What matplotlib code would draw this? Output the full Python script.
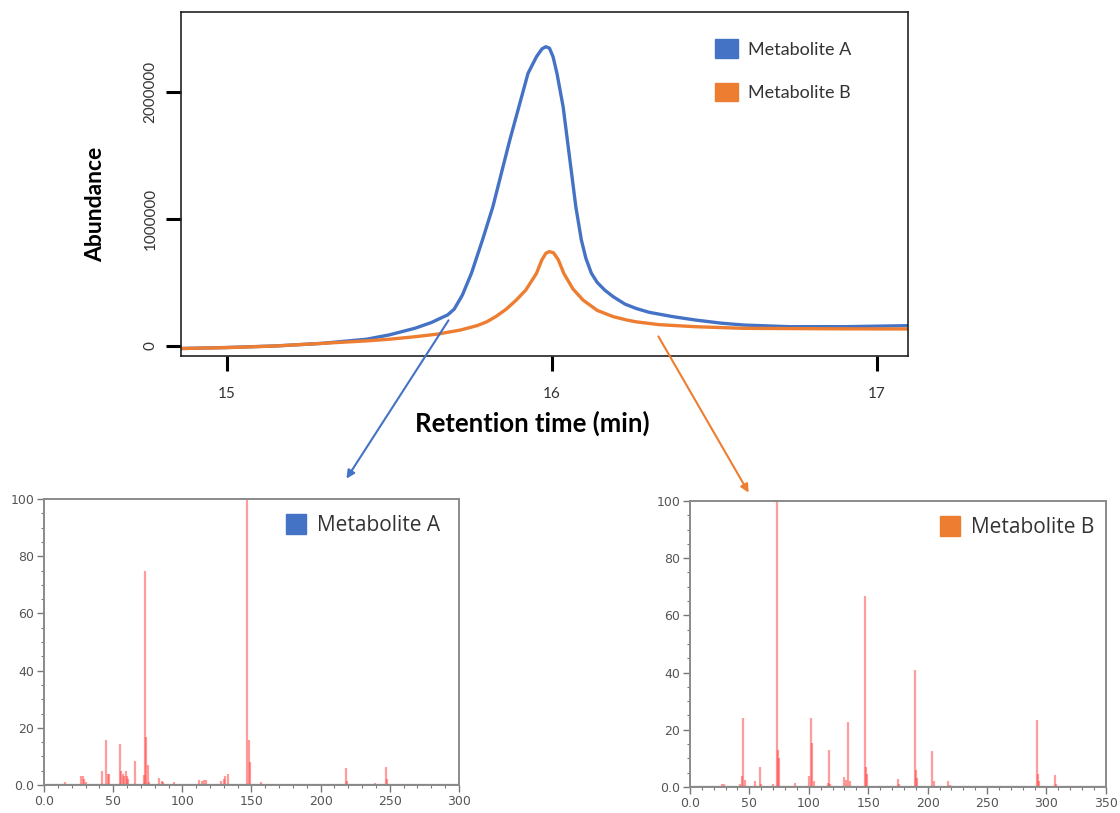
import matplotlib
matplotlib.use("Agg")
import matplotlib.pyplot as plt
from matplotlib.ticker import FixedLocator, MultipleLocator, FuncFormatter
from matplotlib.patches import Patch, FancyArrowPatch

# ---------------- data ----------------
rt_a = [14.86, 15.0, 15.15, 15.29, 15.43, 15.5, 15.58, 15.63, 15.68, 15.70, 15.725,
        15.753, 15.787, 15.819, 15.845, 15.871, 15.899, 15.927, 15.953, 15.97,
        15.982, 15.993, 16.004, 16.016, 16.035, 16.048, 16.061, 16.074, 16.091,
        16.105, 16.122, 16.14, 16.163, 16.189, 16.225, 16.26, 16.3, 16.37, 16.44,
        16.52, 16.59, 16.73, 16.9, 17.095]
ab_a = [-0.02e6, -0.012e6, 0.0, 0.02e6, 0.053e6, 0.087e6, 0.14e6, 0.185e6, 0.245e6,
        0.29e6, 0.40e6, 0.572e6, 0.835e6, 1.097e6, 1.36e6, 1.622e6, 1.884e6,
        2.147e6, 2.278e6, 2.34e6, 2.357e6, 2.345e6, 2.278e6, 2.147e6, 1.884e6,
        1.622e6, 1.36e6, 1.097e6, 0.835e6, 0.69e6, 0.572e6, 0.5e6, 0.44e6,
        0.388e6, 0.33e6, 0.295e6, 0.265e6, 0.232e6, 0.205e6, 0.18e6, 0.165e6,
        0.152e6, 0.152e6, 0.16e6]

rt_b = [14.86, 15.0, 15.15, 15.29, 15.43, 15.5, 15.58, 15.65, 15.72, 15.77, 15.80,
        15.83, 15.86, 15.891, 15.92, 15.953, 15.97, 15.982, 15.992, 16.005, 16.02,
        16.037, 16.065, 16.096, 16.14, 16.189, 16.23, 16.26, 16.33, 16.44, 16.59,
        16.73, 16.9, 17.095]
ab_b = [-0.02e6, -0.013e6, 0.0, 0.02e6, 0.04e6, 0.053e6, 0.073e6, 0.094e6, 0.126e6,
        0.16e6, 0.19e6, 0.235e6, 0.29e6, 0.362e6, 0.44e6, 0.572e6, 0.68e6, 0.73e6,
        0.743e6, 0.735e6, 0.68e6, 0.572e6, 0.45e6, 0.362e6, 0.28e6, 0.231e6,
        0.205e6, 0.19e6, 0.168e6, 0.152e6, 0.139e6, 0.137e6, 0.135e6, 0.134e6]

mz_a = [15, 27, 28, 29, 30, 42, 45, 46, 47, 51, 55, 56, 57, 58, 59, 60, 61, 66,
        72, 73, 74, 75, 76, 83, 85, 86, 94, 103, 112, 114, 116, 117, 128, 130,
        131, 133, 147, 148, 149, 157, 172, 203, 218, 219, 239, 247, 248, 262]
int_a = [1.2, 3.0, 3.3, 2.0, 1.0, 4.8, 15.8, 4.0, 4.0, 0.5, 14.4, 5.0, 4.0, 3.0,
         5.0, 3.0, 2.0, 8.4, 3.5, 74.7, 16.7, 7.0, 1.0, 2.3, 1.5, 1.0, 1.0, 0.5,
         1.7, 1.5, 1.7, 1.8, 1.5, 2.0, 3.0, 3.8, 100.0, 15.8, 8.1, 1.2, 0.5, 0.5,
         6.1, 1.5, 0.7, 6.4, 2.0, 0.5]

mz_b = [27, 29, 42, 44, 45, 46, 55, 59, 60, 70, 73, 74, 75, 88, 100, 102, 103,
        104, 116, 117, 118, 130, 131, 133, 135, 147, 148, 149, 163, 175, 176,
        189, 190, 191, 204, 205, 217, 219, 222, 292, 293, 294, 307, 308, 323]
int_b = [1.0, 1.0, 1.0, 4.0, 24.1, 2.5, 2.0, 7.0, 1.0, 1.0, 100.0, 12.8, 10.0,
         1.5, 4.0, 24.0, 15.4, 2.0, 1.5, 12.8, 1.0, 3.5, 2.5, 22.6, 2.0, 66.8,
         7.0, 4.5, 0.5, 2.8, 1.0, 40.8, 6.0, 3.0, 12.6, 2.0, 2.0, 0.7, 0.5, 23.3,
         4.5, 2.0, 4.1, 1.0, 0.5]

series_names = ["Metabolite A", "Metabolite B"]
colors = ["#4472C4", "#ED7D31"]
rt_ticks = [15, 16, 17]
ab_ticks = [0, 1000000, 2000000]

# ---------------- figure ----------------
fig = plt.figure(figsize=(11.2, 8.13), dpi=100)
LAB = "Lato"

ax = fig.add_axes([0.1616, 0.5621, 0.649, 0.4231])
ax.plot(rt_a, ab_a, color=colors[0], lw=2.4, solid_capstyle="round", solid_joinstyle="round")
ax.plot(rt_b, ab_b, color=colors[1], lw=2.4, solid_capstyle="round", solid_joinstyle="round")
ax.set_xlim(14.86, 17.095)
ax.set_ylim(-79000, 2.63e6)
ax.xaxis.set_major_locator(FixedLocator(rt_ticks))
ax.yaxis.set_major_locator(FixedLocator(ab_ticks))
ax.tick_params(axis="both", direction="out", length=11, width=2.2, color="black")
ax.set_xticklabels([str(t) for t in rt_ticks], fontsize=11, family=LAB, color="#333333")
ax.set_yticklabels([str(t) for t in ab_ticks], fontsize=11, family=LAB, color="#333333",
                   rotation=90, va="center")
ax.tick_params(axis="x", pad=11)
ax.tick_params(axis="y", pad=6)
for s in ax.spines.values():
    s.set_linewidth(1.2)
    s.set_color("#222222")
ax.set_xlabel("Retention time (min)", fontsize=18.5, fontweight="bold", family=LAB, labelpad=7)
ax.set_ylabel("Abundance", fontsize=16.5, fontweight="bold", family=LAB, labelpad=27)
ax.xaxis.label.set_x(0.484)
ax.yaxis.label.set_y(0.44)
handles = [Patch(color=c, label=n) for c, n in zip(colors, series_names)]
leg = ax.legend(handles=handles, loc="upper right", bbox_to_anchor=(0.945, 0.968), frameon=False,
                prop={"family": LAB, "size": 13}, handlelength=1.28, handleheight=1.2,
                handletextpad=0.55, labelspacing=1.38)
for t in leg.get_texts():
    t.set_color("#333333")

# arrows
fig.add_artist(FancyArrowPatch(
    (450 / 1120, 1 - 318 / 813), (345 / 1120, 1 - 481 / 813), transform=fig.transFigure,
    arrowstyle="-|>", mutation_scale=12, color=colors[0], lw=1.5))
fig.add_artist(FancyArrowPatch(
    (657 / 1120, 1 - 334 / 813), (750 / 1120, 1 - 495 / 813), transform=fig.transFigure,
    arrowstyle="-|>", mutation_scale=12, color=colors[1], lw=1.5))


def fmt(v, pos):
    return "0.0" if v == 0 else f"{v:.0f}"


def spectrum(rect, mz, inten, xmax, name, color, anchor_x):
    a = fig.add_axes(rect)
    a.vlines(mz, 0, inten, color="#ff3b3b", alpha=0.5, lw=1.6)
    a.set_xlim(0, xmax)
    a.set_ylim(0, 100)
    a.xaxis.set_major_locator(MultipleLocator(50))
    a.xaxis.set_minor_locator(MultipleLocator(10))
    a.yaxis.set_major_locator(MultipleLocator(20))
    a.yaxis.set_minor_locator(MultipleLocator(5))
    a.xaxis.set_major_formatter(FuncFormatter(fmt))
    a.yaxis.set_major_formatter(FuncFormatter(fmt))
    a.tick_params(which="major", direction="out", length=5, width=1.0, color="#777777",
                  labelsize=9, labelcolor="#555555", pad=2)
    a.tick_params(which="minor", direction="out", length=2.5, width=0.8, color="#777777")
    for s in a.spines.values():
        s.set_color("#8a8a8a")
        s.set_linewidth(1.4)
    a.axhline(0, color="#777777", lw=1.6)
    lg = a.legend(handles=[Patch(color=color, label=name)], loc="upper right",
                  bbox_to_anchor=(anchor_x, 1.012), frameon=False,
                  prop={"family": "Open Sans", "size": 15}, handlelength=0.95,
                  handleheight=1.1, handletextpad=0.55)
    for t in lg.get_texts():
        t.set_color("#333333")
    return a


spectrum([0.0393, 0.0344, 0.3705, 0.3518], mz_a, int_a, 300, series_names[0], colors[0], 1.0)
spectrum([0.616, 0.032, 0.3714, 0.3518], mz_b, int_b, 350, series_names[1], colors[1], 1.018)

fig.savefig("out.png", dpi=100)
